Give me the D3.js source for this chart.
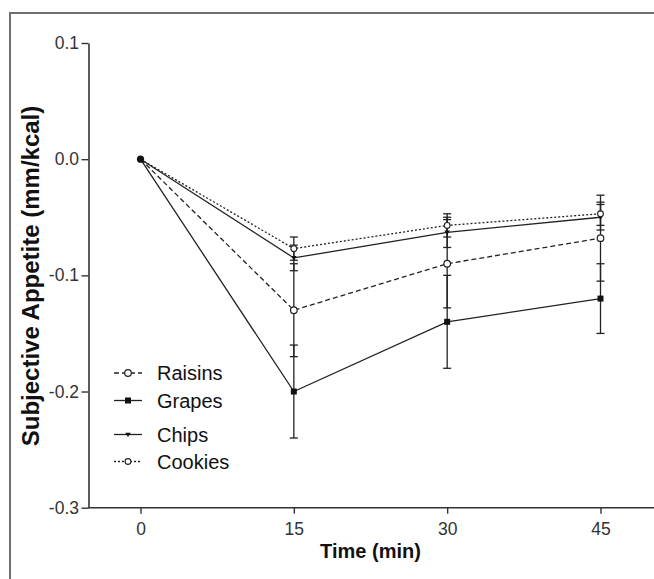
<!DOCTYPE html>
<html>
<head>
<meta charset="utf-8">
<script src="https://cdn.jsdelivr.net/npm/d3@7"></script>
<style>
  html, body { margin: 0; padding: 0; background: #fff; }
  svg { display: block; }
  text { font-family: "Liberation Sans", Arial, sans-serif; }
</style>
</head>
<body>
<svg id="chart" width="654" height="579"></svg>
<script>
// ---- data ----
const times = [0, 15, 30, 45];
const seriesNames = ["Raisins", "Grapes", "Chips", "Cookies"];
const raisinsMean = [0, -0.130, -0.090, -0.068];
const raisinsErr  = [0, 0.040, 0.038, 0.037];
const grapesMean  = [0, -0.200, -0.140, -0.120];
const grapesErr   = [0, 0.040, 0.040, 0.030];
const chipsMean   = [0, -0.085, -0.063, -0.050];
const chipsErr    = [0, 0.011, 0.013, 0.011];
const cookiesMean = [0, -0.077, -0.057, -0.047];
const cookiesErr  = [0, 0.010, 0.010, 0.010];
const xTickLabels = ["0", "15", "30", "45"];
const yTickValues = [0.1, 0.0, -0.1, -0.2, -0.3];
const yTickLabels = ["0.1", "0.0", "-0.1", "-0.2", "-0.3"];

const series = [
  { name: "Raisins", mean: raisinsMean, err: raisinsErr, dash: "5,3", marker: "circleOpen" },
  { name: "Grapes",  mean: grapesMean,  err: grapesErr,  dash: null,  marker: "square" },
  { name: "Chips",   mean: chipsMean,   err: chipsErr,   dash: null,  marker: "triangle" },
  { name: "Cookies", mean: cookiesMean, err: cookiesErr, dash: "2,2", marker: "circleSmall" }
];

const svg = d3.select("#chart");
const ink = "#222";

// frame
svg.append("rect").attr("x", 10).attr("y", 13).attr("width", 700).attr("height", 700)
  .attr("fill", "none").attr("stroke", "#707070").attr("stroke-width", 2);

const x = d3.scaleLinear().domain([0, 45]).range([140.5, 600.5]);
const y = d3.scaleLinear().domain([-0.3, 0.1]).range([507.7, 43]);
const axisX0 = 88.5;

// y axis
const yAxis = d3.axisLeft(y).tickValues(yTickValues)
  .tickFormat((d, i) => yTickLabels[i]).tickSize(7).tickSizeOuter(0);
const gy = svg.append("g").attr("transform", `translate(${axisX0},0)`).call(yAxis);
gy.select(".domain").attr("stroke", "#333").attr("stroke-width", 1.6);
gy.selectAll(".tick line").attr("stroke", "#333").attr("stroke-width", 1.4);
gy.selectAll(".tick text").attr("font-size", 17.5).attr("fill", "#333").attr("x", -9.5)
  .attr("font-family", "'Liberation Sans', Arial, sans-serif");

// x axis
const xAxis = d3.axisBottom(x).tickValues(times).tickFormat((d, i) => xTickLabels[i]).tickSize(6).tickSizeOuter(0);
const gx = svg.append("g").attr("transform", `translate(0,${y(-0.3)})`).call(xAxis);
gx.select(".domain").remove();
gx.append("line").attr("x1", axisX0).attr("x2", 654).attr("y1", 0).attr("y2", 0)
  .attr("stroke", "#333").attr("stroke-width", 1.6);
gx.selectAll(".tick line").attr("stroke", "#333").attr("stroke-width", 1.4);
gx.selectAll(".tick text").attr("font-size", 17.5).attr("fill", "#333").attr("dy", "1.05em")
  .attr("font-family", "'Liberation Sans', Arial, sans-serif");

// axis titles
svg.append("text").attr("x", 370.5).attr("y", 558).attr("text-anchor", "middle")
  .attr("font-size", 20).attr("font-weight", "bold").attr("fill", "#111").text("Time (min)");
svg.append("text").attr("transform", "translate(39,276) rotate(-90)").attr("text-anchor", "middle")
  .attr("font-size", 24).attr("font-weight", "bold").attr("fill", "#111")
  .text("Subjective Appetite (mm/kcal)");

function drawMarker(g, type, cx, cy) {
  if (type === "circleOpen") {
    g.append("circle").attr("cx", cx).attr("cy", cy).attr("r", 3.3)
      .attr("fill", "#fff").attr("stroke", ink).attr("stroke-width", 1.2);
  } else if (type === "circleSmall") {
    g.append("circle").attr("cx", cx).attr("cy", cy).attr("r", 2.9)
      .attr("fill", "#fff").attr("stroke", ink).attr("stroke-width", 1.1);
  } else if (type === "square") {
    g.append("rect").attr("x", cx - 3).attr("y", cy - 3).attr("width", 6).attr("height", 6).attr("fill", "#111");
  } else if (type === "triangle") {
    g.append("path").attr("d", `M${cx - 2.8},${cy - 1.8}L${cx + 2.8},${cy - 1.8}L${cx},${cy + 2.6}Z`).attr("fill", "#111");
  }
}

const line = d3.line().x((d, i) => x(times[i])).y(d => y(d));
const plot = svg.append("g");

// lines
series.forEach(s => {
  plot.append("path").attr("d", line(s.mean)).attr("fill", "none")
    .attr("stroke", ink).attr("stroke-width", 1.3)
    .attr("stroke-dasharray", s.dash);
});

// error bars
const capW = 4;
series.forEach(s => {
  s.mean.forEach((m, i) => {
    const e = s.err[i];
    if (!e) return;
    const cx = x(times[i]);
    const g = plot.append("g").attr("stroke", ink).attr("stroke-width", 1.3);
    g.append("line").attr("x1", cx).attr("x2", cx).attr("y1", y(m + e)).attr("y2", y(m - e));
    g.append("line").attr("x1", cx - capW).attr("x2", cx + capW).attr("y1", y(m + e)).attr("y2", y(m + e));
    g.append("line").attr("x1", cx - capW).attr("x2", cx + capW).attr("y1", y(m - e)).attr("y2", y(m - e));
  });
});

// markers
series.forEach(s => {
  s.mean.forEach((m, i) => {
    if (i === 0) return;
    drawMarker(plot, s.marker, x(times[i]), y(m));
  });
});
// shared starting point (all series at 0)
plot.append("circle").attr("cx", x(0)).attr("cy", y(0)).attr("r", 3.6).attr("fill", "#111");

// legend
const legendRows = [373, 400.5, 434.5, 461.5];
const legend = svg.append("g");
series.forEach((s, i) => {
  const ly = legendRows[i];
  legend.append("line").attr("x1", 114).attr("x2", 142).attr("y1", ly).attr("y2", ly)
    .attr("stroke", ink).attr("stroke-width", 1.3).attr("stroke-dasharray", s.dash);
  drawMarker(legend, s.marker, 128, ly);
  legend.append("text").attr("x", 157).attr("y", ly + 7).attr("font-size", 20)
    .attr("fill", "#111").text(seriesNames[i]);
});
</script>
</body>
</html>
